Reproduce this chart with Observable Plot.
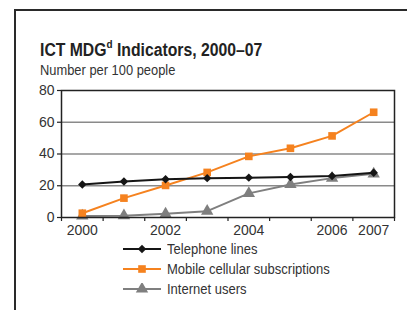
<!DOCTYPE html>
<html>
<head>
<meta charset="utf-8">
<script src="https://cdn.jsdelivr.net/npm/d3@7"></script>
<script src="https://cdn.jsdelivr.net/npm/@observablehq/plot@0.6"></script>
<style>
  html, body { margin: 0; padding: 0; background: #fff; }
  #wrap { position: relative; width: 407px; height: 310px; overflow: hidden;
    font-family: "Liberation Sans", Arial, sans-serif; color: #222; }
  #frame { position: absolute; left: 14px; top: 9px; right: -5px; bottom: -5px;
    border-left: 2px solid #2a2a2a; border-top: 2px solid #2a2a2a; }
  .cond { transform-origin: 0 0; transform: scaleX(0.9); }
  #title { position: absolute; left: 40px; top: 39px; font-size: 17.5px; font-weight: bold; color: #222; white-space: nowrap; }
  #title sup { font-size: 11px; position: relative; top: -1px; }
  #subtitle { position: absolute; left: 40px; top: 62px; font-size: 14px; color: #333; white-space: nowrap; transform: scaleX(0.92); }
  #chart { position: absolute; left: 0; top: 80px; }
  #legend { position: absolute; left: 123px; top: 239px; font-size: 14px; color: #333; }
  .row { display: flex; align-items: center; height: 20px; }
  .row svg { margin-right: 6px; }
  .row span { display: inline-block; transform-origin: 0 50%; transform: scaleX(0.93); white-space: nowrap; }
</style>
</head>
<body>
<div id="wrap">
  <div id="frame"></div>
  <div id="title" class="cond">ICT MDG<sup>d</sup> Indicators, 2000–07</div>
  <div id="subtitle" class="cond">Number per 100 people</div>
  <div id="chart"></div>
  <div id="legend"></div>
</div>
<script>
const years = [2000, 2001, 2002, 2003, 2004, 2005, 2006, 2007];
const telephone = [20.8, 22.7, 24.1, 24.8, 25.1, 25.5, 26.1, 28.2];
const mobile = [2.7, 12.2, 20.2, 28.4, 38.5, 43.6, 51.4, 66.3];
const internet = [1.0, 1.1, 2.3, 4.0, 15.2, 20.8, 24.8, 27.5];
const yTicks = [0, 20, 40, 60, 80];
const xTickLabels = [2000, 2002, 2004, 2006, 2007];
const seriesNames = ["Telephone lines", "Mobile cellular subscriptions", "Internet users"];

const colors = { "Telephone lines": "#151515", "Mobile cellular subscriptions": "#f5821f", "Internet users": "#7f7f7f" };
const symbols = { "Telephone lines": "diamond2", "Mobile cellular subscriptions": "square", "Internet users": "triangle" };
const radii = { "Telephone lines": 3.8, "Mobile cellular subscriptions": 4.3, "Internet users": 4.6 };

const rows = [];
const seriesValues = [telephone, mobile, internet];
seriesNames.forEach((s, i) => years.forEach((y, j) => rows.push({ series: s, year: y, value: seriesValues[i][j] })));
const drawOrder = ["Internet users", "Mobile cellular subscriptions", "Telephone lines"];

const boundaries = d3.range(years.length + 1).map(i => years[0] - 0.5 + i);

const marks = [
  Plot.ruleY(yTicks.filter(v => v > 0 && v < 80), { stroke: "#8a8a8a", strokeWidth: 1.5 }),
  Plot.axisY({ ticks: yTicks, tickSize: 4, tickPadding: 3, fontSize: 14, label: null, stroke: "#222", strokeWidth: 1.2 }),
  Plot.axisX({ ticks: boundaries, tickSize: 4, tickFormat: () => "", label: null, stroke: "#222", strokeWidth: 1.2 }),
  Plot.axisX({ ticks: xTickLabels, tickSize: 0, tickPadding: 8, tickFormat: d => String(d), fontSize: 14, label: null })
];
for (const s of drawOrder) {
  const data = rows.filter(r => r.series === s);
  marks.push(Plot.line(data, { x: "year", y: "value", stroke: colors[s], strokeWidth: 2 }));
  marks.push(Plot.dot(data, { x: "year", y: "value", fill: colors[s], stroke: "none", symbol: symbols[s], r: radii[s] }));
}
marks.push(Plot.frame({ stroke: "#222", strokeWidth: 1.5 }));

const chart = Plot.plot({
  width: 407,
  height: 162,
  marginLeft: 61,
  marginRight: 13,
  marginTop: 10,
  marginBottom: 25,
  x: { domain: [years[0] - 0.5, years[years.length - 1] + 0.5], axis: null },
  y: { domain: [0, 80], axis: null },
  style: { fontFamily: "'Liberation Sans', Arial, sans-serif", color: "#333", background: "transparent", overflow: "visible" },
  marks
});
document.getElementById("chart").appendChild(chart);

const legend = document.getElementById("legend");
const symGen = { "diamond2": d3.symbolDiamond2, "square": d3.symbolSquare, "triangle": d3.symbolTriangle };
for (const s of seriesNames) {
  const row = document.createElement("div");
  row.className = "row";
  const r = radii[s];
  const path = d3.symbol(symGen[symbols[s]], r * r * Math.PI)();
  row.innerHTML = `<svg width="38" height="12"><line x1="0" x2="38" y1="6" y2="6" stroke="${colors[s]}" stroke-width="2"/><path d="${path}" transform="translate(19,6)" fill="${colors[s]}"/></svg><span>${s}</span>`;
  legend.appendChild(row);
}
</script>
</body>
</html>
